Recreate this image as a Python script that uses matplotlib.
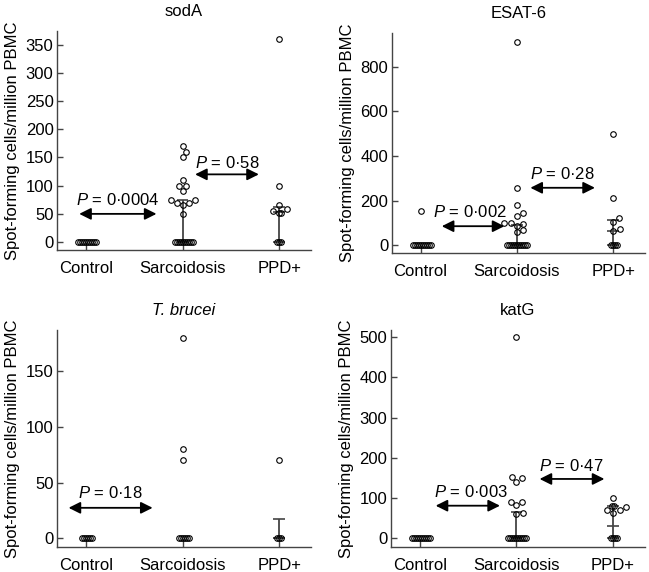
import matplotlib
matplotlib.use('Agg')
import matplotlib.pyplot as plt

plt.rcParams['font.family'] = ['Liberation Sans', 'DejaVu Sans']
plt.rcParams['font.size'] = 12
plt.rcParams['mathtext.fontset'] = 'custom'
plt.rcParams['mathtext.rm'] = 'Liberation Sans'
plt.rcParams['mathtext.it'] = 'Liberation Sans:italic'

groups = ['Control', 'Sarcoidosis', 'PPD+']
ylabel = 'Spot-forming cells/million PBMC'

# sodA
sod_ctrl = [0] * 10
sod_sarc = [0] * 10 + [170, 160, 150, 110, 100, 100, 90, 75, 75, 70, 65, 70, 50]
sod_ppd = [360, 100, 65, 58, 55, 51, 51, 0, 0, 0]
sod_med = [0, 0, 53]
sod_lo = [0, 0, 0]
sod_hi = [0, 75, 62]
sod_p = ['0·0004', '0·58']

# ESAT-6
esat_ctrl = [0] * 10 + [153]
esat_sarc = [0] * 11 + [910, 255, 182, 143, 132, 101, 100, 98, 88, 68, 58]
esat_ppd = [500, 212, 121, 106, 72, 64, 0, 0, 0, 0]
esat_med = [0, 0, 65]
esat_lo = [0, 0, 0]
esat_hi = [0, 90, 115]
esat_p = ['0·002', '0·28']

# T. brucei
tb_ctrl = [0] * 6
tb_sarc = [0] * 6 + [180, 80, 70]
tb_ppd = [70, 0, 0, 0]
tb_med = [0, 0, 0]
tb_lo = [0, 0, 0]
tb_hi = [0, 0, 17]
tb_p = ['0·18']

# katG
kat_ctrl = [0] * 10
kat_sarc = [0] * 10 + [500, 152, 149, 139, 91, 91, 82, 64, 60]
kat_ppd = [100, 80, 80, 78, 70, 70, 64, 0, 0, 0, 0]
kat_med = [0, 0, 30]
kat_lo = [0, 0, 0]
kat_hi = [0, 66, 79]
kat_p = ['0·003', '0·47']

LINE = '#444444'


def swarm(ax, xc, vals, diam=6.5, tie=2.0):
    # simple beeswarm in pixel space, ties packed closer
    tr = ax.transData
    placed = []
    xs, ys = [], []
    xc_px = tr.transform((xc, 0))[0]
    steps = [0.0]
    for k in range(1, 120):
        steps += [k * 0.5, -k * 0.5]
    for v in sorted(vals):
        ypx = tr.transform((xc, v))[1]
        for off in steps:
            ok = True
            for px, py, pv in placed:
                need = tie if pv == v else diam
                if (px - xc_px - off) ** 2 + (py - ypx) ** 2 < need ** 2:
                    ok = False
                    break
            if ok:
                break
        placed.append((xc_px + off, ypx, v))
        x, y = tr.inverted().transform((xc_px + off, ypx))
        xs.append(x)
        ys.append(v)
    ax.plot(xs, ys, 'o', ms=4.0, mfc='none', mec='black', mew=0.8, zorder=3)


def panel(ax, title, data, med, lo, hi, ylim, yticks, arrows, italic=False):
    ax.set_xlim(-0.3, 2.33)
    ax.set_ylim(*ylim)
    for s in ['top', 'right']:
        ax.spines[s].set_visible(False)
    for s in ['left', 'bottom']:
        ax.spines[s].set_color(LINE)
        ax.spines[s].set_linewidth(1.0)
    ax.set_xticks(range(3))
    ax.set_xticklabels(groups)
    ax.set_yticks(yticks)
    ax.tick_params(axis='x', direction='in', length=6, width=1.0, color=LINE, pad=8)
    ax.tick_params(axis='y', direction='in', length=4.5, width=1.0, color=LINE, pad=2.5)
    ax.set_ylabel(ylabel, labelpad=4)
    ax.set_title(title, fontsize=12, pad=11, fontstyle='italic' if italic else 'normal')

    for i in range(3):
        if hi[i] > lo[i]:
            ax.vlines(i, lo[i], hi[i], color=LINE, lw=1.3, zorder=2)
            ax.hlines([lo[i], hi[i]], i - 0.06, i + 0.06, color=LINE, lw=1.2, zorder=2)
            ax.hlines(med[i], i - 0.06, i + 0.06, color=LINE, lw=1.2, zorder=2)
        swarm(ax, i, data[i])

    for x0, x1, y, lab, tx, ty in arrows:
        ax.annotate('', xy=(x1, y), xytext=(x0, y),
                    arrowprops=dict(arrowstyle='<|-|>,head_length=0.7,head_width=0.35',
                                    color='black', lw=1.3, mutation_scale=10,
                                    shrinkA=0, shrinkB=0))
        ax.text(tx, ty, '$P$ = ' + lab, ha='center', va='center', fontsize=12)


fig = plt.figure(figsize=(6.49, 5.72), dpi=100)
W, H = 649, 572


def box(l, r, t, b):
    return [l / W, (H - b) / H, (r - l) / W, (b - t) / H]


ax1 = fig.add_axes(box(57, 311, 31, 250))
ax2 = fig.add_axes(box(391.7, 645, 33, 253))
ax3 = fig.add_axes(box(57, 311, 330, 546.7))
ax4 = fig.add_axes(box(390.7, 645, 330, 546.7))

panel(ax1, 'sodA', [sod_ctrl, sod_sarc, sod_ppd], sod_med, sod_lo, sod_hi,
      (-14, 374), range(0, 351, 50),
      [(-0.07, 0.73, 50, sod_p[0], 0.33, 74), (1.13, 1.79, 120, sod_p[1], 1.46, 141)])
panel(ax2, 'ESAT-6', [esat_ctrl, esat_sarc, esat_ppd], esat_med, esat_lo, esat_hi,
      (-34, 951), range(0, 801, 200),
      [(0.22, 0.87, 86, esat_p[0], 0.51, 150), (1.14, 1.81, 258, esat_p[1], 1.47, 318)])
panel(ax3, 'T. brucei', [tb_ctrl, tb_sarc, tb_ppd], tb_med, tb_lo, tb_hi,
      (-7.5, 187), range(0, 151, 50),
      [(-0.18, 0.69, 27.4, tb_p[0], 0.25, 41)], italic=True)
panel(ax4, 'katG', [kat_ctrl, kat_sarc, kat_ppd], kat_med, kat_lo, kat_hi,
      (-21, 518), range(0, 501, 100),
      [(0.165, 0.83, 81, kat_p[0], 0.53, 116), (1.24, 1.91, 147.5, kat_p[1], 1.57, 180)])

fig.savefig('out.png', dpi=100)
